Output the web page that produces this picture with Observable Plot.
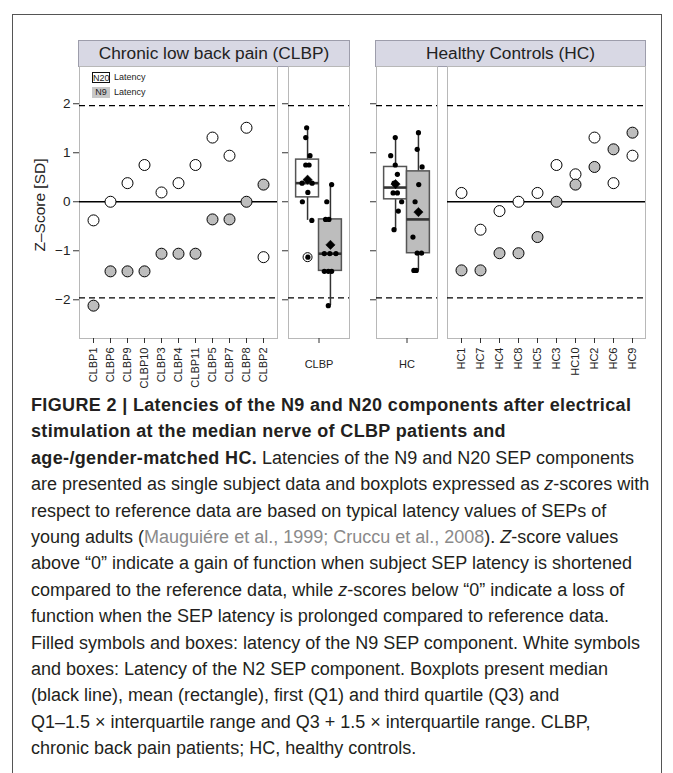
<!DOCTYPE html>
<html><head><meta charset="utf-8">
<script src="https://cdn.jsdelivr.net/npm/d3@7"></script>
<script src="https://cdn.jsdelivr.net/npm/@observablehq/plot@0.6"></script>
<style>
body{margin:0;background:#fff;font-family:"Liberation Sans",Arial,Helvetica,sans-serif;}
#root{position:relative;width:673px;height:773px;overflow:hidden;background:#fff;}
#border{position:absolute;left:12px;top:14px;width:648px;height:820px;border:1px solid #555;}
.strip{position:absolute;top:40px;height:27px;background:#d8d8e4;border:1px solid #9d9dab;box-sizing:border-box;font-size:17.3px;color:#222;text-align:center;line-height:25px;}
.pnl{position:absolute;}
.pnl svg{overflow:visible;}
#ytitle{position:absolute;left:40px;top:205px;transform:translate(-50%,-50%) rotate(-90deg);font-size:15.5px;color:#222;white-space:nowrap;}
.leg{position:absolute;left:92px;font-size:9px;color:#222;white-space:nowrap;}
.leg .key{display:inline-block;width:18px;height:11px;line-height:11px;text-align:center;box-sizing:border-box;margin-right:4px;vertical-align:middle;}
#caption{position:absolute;left:31px;top:392px;font-size:18px;line-height:26.4px;color:#231f20;white-space:nowrap;}
#caption b{font-weight:bold;letter-spacing:0.35px;}
#caption .cite{color:#8a8a8a;}
</style>
</head><body>
<div id="root">
  <div id="border"></div>
  <div class="strip" id="strip1" style="left:78px;width:272px;"></div>
  <div class="strip" id="strip2" style="left:375px;width:271px;"></div>
  <div id="ytitle"></div>
  <div class="pnl" id="p1"></div>
  <div class="pnl" id="p2"></div>
  <div class="pnl" id="p3"></div>
  <div class="pnl" id="p4"></div>
  <div class="leg" id="leg1" style="top:72px;"></div>
  <div class="leg" id="leg2" style="top:87px;"></div>
  <div id="caption"></div>
</div>
<script>
// ---------------- data ----------------
const stripTitles = ["Chronic low back pain (CLBP)", "Healthy Controls (HC)"];
const yTitle = "Z\u2013Score [SD]";
const yTicks = [-2, -1, 0, 1, 2];
const cutoffs = [-1.96, 1.96];
const legendKeys = ["N20", "N9"];
const legendText = "Latency";
const groupLabels = ["CLBP", "HC"];

const clbpIds = ["CLBP1","CLBP6","CLBP9","CLBP10","CLBP3","CLBP4","CLBP11","CLBP5","CLBP7","CLBP8","CLBP2"];
const clbpN20 = [-0.38, 0, 0.38, 0.75, 0.19, 0.38, 0.75, 1.31, 0.94, 1.51, -1.13];
const clbpN9  = [-2.12, -1.42, -1.42, -1.42, -1.06, -1.06, -1.06, -0.36, -0.36, 0, 0.35];

const hcIds = ["HC1","HC7","HC4","HC8","HC5","HC3","HC10","HC2","HC6","HC9"];
const hcN20 = [0.18, -0.57, -0.19, 0, 0.18, 0.75, 0.56, 1.31, 0.38, 0.94];
const hcN9  = [-1.40, -1.40, -1.05, -1.05, -0.72, 0, 0.35, 0.71, 1.07, 1.41];

// horizontal jitter of the points inside the boxplots
const clbpN20Jitter = [0.14, -0.17, -0.18, -0.06, 0.01, 0.15, 0.05, -0.06, 0.08, -0.03, 0.01];
const clbpN9Jitter  = [-0.07, -0.20, -0.07, 0.04, -0.20, -0.02, 0.18, -0.16, -0.05, -0.12, 0.04];
const hcN20Jitter   = [-0.08, -0.05, 0.09, 0.20, 0.06, -0.01, 0.06, -0.01, -0.05, -0.16];
const hcN9Jitter    = [-0.15, -0.07, -0.04, 0.10, -0.18, -0.11, 0.01, 0.12, -0.04, 0.00];

// boxplot statistics: [N20, N9]
const clbpQ1 = [0.09, -1.41], clbpMed = [0.38, -1.06], clbpQ3 = [0.86, -0.36];
const clbpLo = [-0.38, -2.12], clbpHi = [1.51, 0.35], clbpMean = [0.45, -0.88];
const clbpOutliers = [-1.13];
const hcQ1 = [0.05, -1.05], hcMed = [0.29, -0.36], hcQ3 = [0.71, 0.62];
const hcLo = [-0.57, -1.40], hcHi = [1.31, 1.41], hcMean = [0.36, -0.21];
const hcOutliers = [];

const captionLines = [
  ["b","FIGURE 2 | Latencies of the N9 and N20 components after electrical"],
  ["b","stimulation at the median nerve of CLBP patients and"],
  ["b","age-/gender-matched HC.", " Latencies of the N9 and N20 SEP components"],
  ["","are presented as single subject data and boxplots expressed as ", ["i","z"], "-scores with"],
  ["","respect to reference data are based on typical latency values of SEPs of"],
  ["","young adults (", ["c","Mauguiére et al., 1999; Cruccu et al., 2008"], "). ", ["i","Z"], "-score values"],
  ["","above \u201c0\u201d indicate a gain of function when subject SEP latency is shortened"],
  ["","compared to the reference data, while ", ["i","z"], "-scores below \u201c0\u201d indicate a loss of"],
  ["","function when the SEP latency is prolonged compared to reference data."],
  ["","Filled symbols and boxes: latency of the N9 SEP component. White symbols"],
  ["","and boxes: Latency of the N2 SEP component. Boxplots present median"],
  ["","(black line), mean (rectangle), first (Q1) and third quartile (Q3) and"],
  ["","Q1\u20131.5 \u00d7 interquartile range and Q3 + 1.5 \u00d7 interquartile range. CLBP,"],
  ["","chronic back pain patients; HC, healthy controls."]
];

// ---------------- styles / layout ----------------
const WHITE = "#ffffff", GREY = "#bdbdbd";
const Y_DOMAIN = [-2.79, 2.76];
const FRAME_TOP = 66, FRAME_H = 272;
const FONT = "Liberation Sans, Arial, Helvetica, sans-serif";
const frameColor = "#b8b8b8";
const intFmt = d3.format("d");

document.getElementById("strip1").textContent = stripTitles[0];
document.getElementById("strip2").textContent = stripTitles[1];
document.getElementById("ytitle").textContent = yTitle;
document.getElementById("leg1").innerHTML =
  `<span class="key" style="border:1px solid #111;background:#fff">${legendKeys[0]}</span>${legendText}`;
document.getElementById("leg2").innerHTML =
  `<span class="key" style="background:#c8c8c8">${legendKeys[1]}</span>${legendText}`;

function place(id, svg, frameLeft, marginLeft, marginTop) {
  const el = document.getElementById(id);
  el.style.left = (frameLeft - marginLeft) + "px";
  el.style.top = (FRAME_TOP - marginTop) + "px";
  el.appendChild(svg);
}

function subjectPanel(ids, n20, n9, yAxis, frameLeft, frameW) {
  const mL = yAxis ? frameLeft : 2, mT = 2, mB = 60, mR = 2;
  const svg = Plot.plot({
    width: mL + frameW + mR, height: mT + FRAME_H + mB,
    marginLeft: mL, marginRight: mR, marginTop: mT, marginBottom: mB,
    style: {fontFamily: FONT, color: "#222", background: "transparent"},
    x: {type: "point", domain: ids, padding: 0.6, axis: null},
    y: {domain: Y_DOMAIN, axis: null},
    marks: [
      Plot.frame({stroke: frameColor}),
      Plot.ruleY([0], {stroke: "#000", strokeWidth: 1.4}),
      Plot.ruleY(cutoffs, {stroke: "#000", strokeWidth: 1.2, strokeDasharray: "6,4"}),
      Plot.dot(ids, {x: d => d, y: (d, i) => n20[i], r: 5.5, fill: WHITE, stroke: "#000", strokeWidth: 1}),
      Plot.dot(ids, {x: d => d, y: (d, i) => n9[i], r: 5.5, fill: GREY, stroke: "#000", strokeWidth: 1}),
      ...(yAxis ? [Plot.axisY({ticks: yTicks, tickFormat: intFmt, tickSize: 6, tickPadding: 3, fontSize: 13.5, label: null, stroke: "#333"})] : []),
      Plot.axisX({tickRotate: -90, tickSize: 5, tickPadding: 4, fontSize: 11, label: null, stroke: "#333"})
    ]
  });
  return [svg, mL, mT];
}

function boxPanel(label, n20, n9, j20, j9, q1, med, q3, lo, hi, mean, outliers, frameW) {
  const mL = 10, mT = 2, mB = 60, mR = 2;
  const centers = [-0.375, 0.375], hw = 0.375;
  const fills = [WHITE, GREY];
  const stats = [0, 1].map(k => ({c: centers[k], q1: q1[k], med: med[k], q3: q3[k], lo: lo[k], hi: hi[k], mean: mean[k], fill: fills[k]}));
  const pts = [
    ...n20.map((v, i) => ({x: centers[0] + j20[i], y: v})),
    ...n9.map((v, i) => ({x: centers[1] + j9[i], y: v}))
  ];
  const svg = Plot.plot({
    width: mL + frameW + mR, height: mT + FRAME_H + mB,
    marginLeft: mL, marginRight: mR, marginTop: mT, marginBottom: mB,
    style: {fontFamily: FONT, color: "#222", background: "transparent"},
    x: {domain: [-1, 1], axis: null},
    y: {domain: Y_DOMAIN, axis: null},
    marks: [
      Plot.frame({stroke: frameColor}),
      Plot.ruleY(cutoffs, {stroke: "#000", strokeWidth: 1.2, strokeDasharray: "6,4"}),
      Plot.ruleX(stats, {x: "c", y1: "lo", y2: "q1", stroke: "#333", strokeWidth: 1.5}),
      Plot.ruleX(stats, {x: "c", y1: "q3", y2: "hi", stroke: "#333", strokeWidth: 1.5}),
      Plot.rect(stats, {x1: d => d.c - hw, x2: d => d.c + hw, y1: "q1", y2: "q3", fill: "fill", stroke: "#555", strokeWidth: 1.5}),
      Plot.ruleY(stats, {x1: d => d.c - hw, x2: d => d.c + hw, y: "med", stroke: "#333", strokeWidth: 2.6}),
      Plot.dot(outliers, {x: centers[0], y: d => d, r: 4.5, fill: "none", stroke: "#000", strokeWidth: 1}),
      Plot.dot(pts, {x: "x", y: "y", r: 2.6, fill: "#000"}),
      Plot.dot(stats, {x: "c", y: "mean", symbol: "diamond2", r: 4.2, fill: "#000", stroke: "#000", strokeWidth: 0.5}),
      Plot.axisY({ticks: yTicks, tickSize: 6, tickFormat: () => "", label: null, stroke: "#333"}),
      Plot.axisX({ticks: [0], tickFormat: () => label, tickSize: 5, tickPadding: 17, fontSize: 11, label: null, stroke: "#333"})
    ]
  });
  return [svg, mL, mT];
}

let r;
r = subjectPanel(clbpIds, clbpN20, clbpN9, true, 79, 198); place("p1", r[0], 79, r[1], r[2]);
r = boxPanel(groupLabels[0], clbpN20, clbpN9, clbpN20Jitter, clbpN9Jitter, clbpQ1, clbpMed, clbpQ3, clbpLo, clbpHi, clbpMean, clbpOutliers, 61);
place("p2", r[0], 288, r[1], r[2]);
r = boxPanel(groupLabels[1], hcN20, hcN9, hcN20Jitter, hcN9Jitter, hcQ1, hcMed, hcQ3, hcLo, hcHi, hcMean, hcOutliers, 61);
place("p3", r[0], 376, r[1], r[2]);
r = subjectPanel(hcIds, hcN20, hcN9, false, 447, 198); place("p4", r[0], 447, r[1], r[2]);

// caption
const cap = document.getElementById("caption");
cap.innerHTML = captionLines.map(line => {
  const [kind, ...parts] = line;
  const html = parts.map((p, idx) => {
    if (Array.isArray(p)) {
      if (p[0] === "i") return `<i>${p[1]}</i>`;
      if (p[0] === "c") return `<span class="cite">${p[1]}</span>`;
    }
    if (kind === "b" && idx === 0) return `<b>${p}</b>`;
    return p;
  }).join("");
  return `<div>${html}</div>`;
}).join("");
</script>
</body></html>
